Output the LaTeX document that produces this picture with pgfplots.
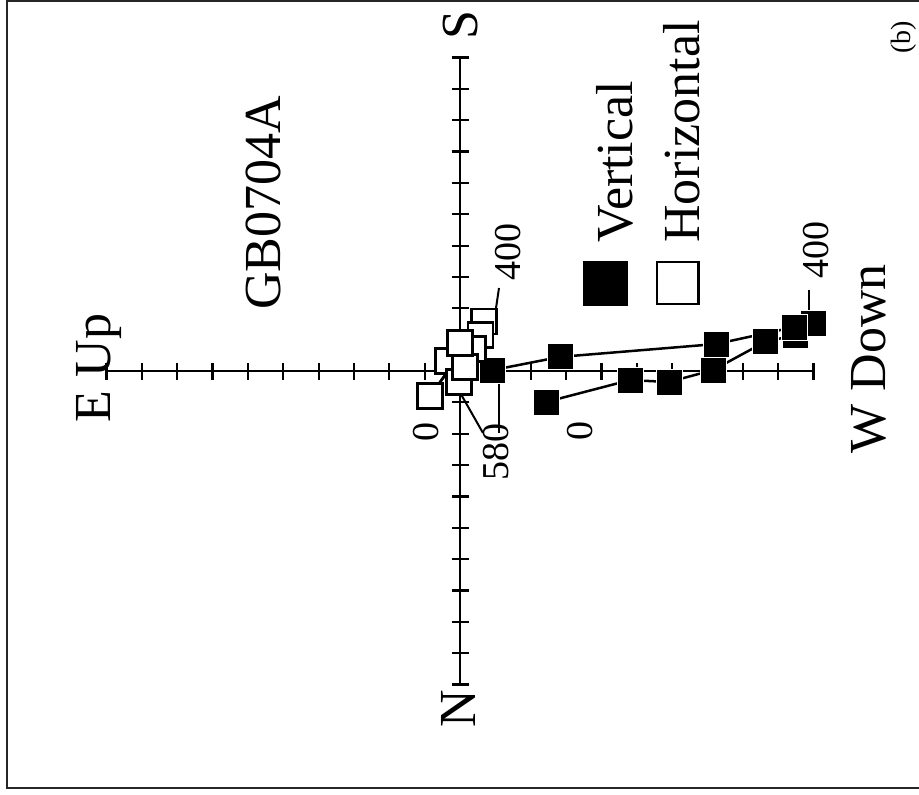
\documentclass[border=0pt]{standalone}
\usepackage{fontspec}
\setmainfont{Liberation Serif}
\usepackage{pgfplots}
\pgfplotsset{compat=1.18}

% demagnetisation steps, in axis tick units (one tick = one unit)
% vertical projection: NRM (0) ... 400 ... 580
\pgfplotstableread{
x      y
2.43  -0.99
4.81  -0.29
5.91  -0.35
7.16   0.03
8.63   0.93
9.50   1.15
9.99   1.53
9.45   1.40
7.24   0.86
2.83   0.45
0.93   0.03
}\vertdata
% horizontal projection: path order
\pgfplotstableread{
x      y
-0.85  -0.80
0.68   1.59
0.14   0.13
0.57   1.15
0.37   0.70
0.00   0.89
-0.34  0.32
-0.03 -0.35
}\horzdata
% same points, drawing order of the open squares
\pgfplotstableread{
x      y
-0.85  -0.80
0.68   1.59
0.57   1.15
0.37   0.70
-0.34  0.32
-0.03 -0.35
0.14   0.13
0.00   0.89
}\horzmarks
% first three steps, drawn over the open squares
\pgfplotstableread{
x      y
-0.85  -0.80
0.68   1.59
0.14   0.13
}\horzfirst

\newcommand{\bigfont}{\fontsize{52}{62}\selectfont}
\newcommand{\numfont}{\fontsize{38}{46}\selectfont}

\begin{document}
\begin{tikzpicture}
\useasboundingbox (0pt,0pt) rectangle (919pt,-795pt);
\draw[line width=2.3pt, black!85] (7pt,-1pt) rectangle (935pt,-788pt);

\begin{axis}[
  at={(460pt,-371pt)}, anchor=origin,
  scale only axis, width=707pt, height=627pt,
  xmin=-10, xmax=10, ymin=-10, ymax=10,
  axis lines=middle,
  axis line style={-, line width=2.5pt},
  every inner x axis line/.append style={-},
  every inner y axis line/.append style={-},
  xtick={-10,-9,...,10}, ytick={-10,-9,...,10},
  xticklabels={}, yticklabels={},
  tick style={black, line width=2.2pt},
  tick align=center, major tick length=17pt,
  clip=false,
  legend columns=2,
  legend style={
    at={(axis cs:3.479,2.105)}, anchor=south west,
    draw=none, fill=none, inner sep=0pt, outer sep=0pt,
    column sep=10.5pt,
    nodes={inner sep=0pt, outer sep=0pt},
  },
]
% vertical components
\addplot[black, line width=2.5pt, mark=square*, mark size=13pt,
  mark options={fill=black, draw=white, line width=0.8pt}, forget plot]
  table {\vertdata};
% horizontal components
\addplot[black, line width=2.5pt, forget plot] table {\horzdata};
\addplot[only marks, mark=square*, mark size=12.5pt,
  mark options={fill=white, draw=black, line width=2.3pt}, forget plot]
  table {\horzmarks};
\addplot[black, line width=2.5pt, forget plot] table {\horzfirst};

% leaders from step labels
\draw[line width=2pt] (axis cs:1.103,2.648) -- (axis cs:0.990,1.786);
\draw[line width=2pt] (axis cs:-0.057,-0.574) -- (axis cs:0.651,-1.978);
\draw[line width=2pt] (axis cs:1.103,0) -- (axis cs:1.103,-1.978);
\draw[line width=2pt] (axis cs:9.873,2.584) -- (axis cs:9.873,1.882);

% legend keys: square with its name set upright above it
\addlegendimage{legend image code/.code={%
  \fill[black] (-22pt,-22pt) rectangle (22pt,22pt);
  \node[rotate=90, anchor=base west, font=\bigfont, inner sep=0pt] at (27pt,40pt) {Vertical};}}
\addlegendentry{}
\addlegendimage{legend image code/.code={%
  \draw[black, fill=white, line width=2.2pt] (-20.9pt,-20.9pt) rectangle (20.9pt,20.9pt);
  \node[rotate=90, anchor=base west, font=\bigfont, inner sep=0pt] at (22pt,40pt) {Horizontal};}}
\addlegendentry{}
\end{axis}

% axis end labels and titles
\node[rotate=90, anchor=base, font=\bigfont, inner sep=0pt] at (110pt,-368pt) {E Up};
\node[rotate=90, anchor=base, font=\bigfont, inner sep=0pt] at (885pt,-359pt) {W Down};
\node[rotate=90, anchor=base, font=\bigfont, inner sep=0pt] at (477pt,-25pt) {S};
\node[rotate=90, anchor=base, font=\bigfont, inner sep=0pt] at (475pt,-709pt) {N};
\node[rotate=90, anchor=base, font=\bigfont, inner sep=0pt] at (280pt,-203pt) {GB0704A};
\node[rotate=90, anchor=base, font=\fontsize{28}{34}\selectfont, inner sep=0pt] at (910pt,-37pt) {(b)};

% step labels
\node[rotate=90, anchor=base, font=\numfont, inner sep=0pt] at (438pt,-432pt) {0};
\node[rotate=90, anchor=base, font=\numfont, inner sep=0pt] at (592pt,-431pt) {0};
\node[rotate=90, anchor=base, font=\numfont, inner sep=0pt] at (508pt,-452pt) {580};
\node[rotate=90, anchor=base, font=\numfont, inner sep=0pt] at (520pt,-252pt) {400};
\node[rotate=90, anchor=base, font=\numfont, inner sep=0pt] at (828pt,-250pt) {400};
\end{tikzpicture}
\end{document}
